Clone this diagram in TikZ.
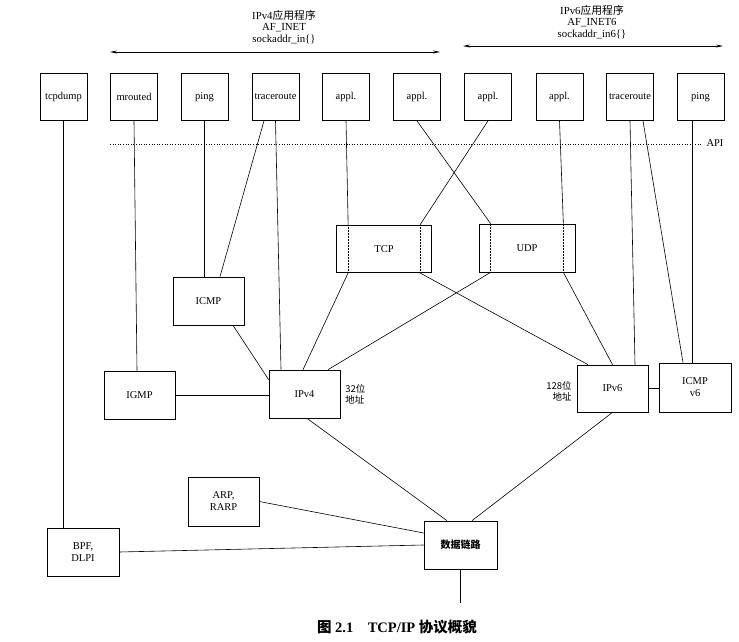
\documentclass[tikz,border=0pt]{standalone}
\usepackage{fontspec}
\setmainfont{Liberation Serif}
\newfontfamily\cjk{Noto Sans CJK SC}
\usetikzlibrary{arrows.meta}
\begin{document}
\begin{tikzpicture}[x=1pt,y=-1pt,
  line width=0.7pt,
  box/.style={draw, line width=0.7pt, minimum width=47pt, minimum height=47pt, inner sep=0pt, align=center, font=\fontsize{10.5}{12}\selectfont},
  lbox/.style={box, minimum width=71pt, minimum height=48pt},
  conn/.style={line width=0.6pt},
  innerdot/.style={densely dotted, line width=0.5pt},
  hdr/.style={align=center, font=\fontsize{10.8}{11.8}\selectfont},
  rng/.style={{Stealth[length=7pt,width=3pt]}-{Stealth[length=7pt,width=3pt]}, line width=0.8pt},
  cjkl/.style={inner sep=0pt, font=\cjk\fontsize{9.5}{11}\selectfont}
]
\useasboundingbox (0,0) rectangle (739,642);

% headers
\node[hdr] (h4) at (284,27) {IPv4{\cjk 应用程序}\\AF\_INET\\sockaddr\_in\{\}};
\node[hdr] (h6) at (592,22) {IPv6{\cjk 应用程序}\\AF\_INET6\\sockaddr\_in6\{\}};
\coordinate (r4a) at (110,52); \coordinate (r4b) at (440,52);
\coordinate (r6a) at (463,46); \coordinate (r6b) at (723,46);
\draw[rng] (r4a) -- (r4b);
\draw[rng] (r6a) -- (r6b);

% top application boxes
\node[box] (tcpdump) at (63.5,97) {tcpdump};
\node[box] (mrouted) at (134,97) {mrouted};
\node[box] (ping4) at (204.5,97) {ping};
\node[box] (tr4) at (275.5,97) {traceroute};
\node[box] (a1) at (346,97) {appl.};
\node[box] (a2) at (417,97) {appl.};
\node[box] (a3) at (488,97) {appl.};
\node[box] (a4) at (559.5,97) {appl.};
\node[box] (tr6) at (630,97) {traceroute};
\node[box] (ping6) at (700.5,97) {ping};

% API line
\node[font=\fontsize{10.5}{12}\selectfont, inner sep=4pt] (api) at (715,143) {API};
\coordinate (apistart) at (110,144);
\draw[dotted, line width=0.6pt] (apistart) -- (apistart -| api.west);

% transport
\node[box, minimum width=95pt, minimum height=47pt] (TCP) at (384,249) {TCP};
\node[box, minimum width=96pt, minimum height=48pt] (UDP) at (527,248) {UDP};

% network
\node[lbox] (ICMP) at (208.5,301) {ICMP};
\node[lbox] (IGMP) at (139.5,395) {IGMP};
\node[lbox] (IPv4) at (304.5,394) {IPv4};
\node[lbox, minimum height=47pt] (IPv6) at (612.5,388.5) {IPv6};
\node[lbox, minimum width=72pt, minimum height=49pt] (ICMPv6) at (695,387.5) {ICMP\\v6};
\node[cjkl, anchor=west, align=left] (b32) at (345,394) {32位\\地址};
\node[cjkl, anchor=east, align=right] (b128) at (572,391) {128位\\地址};

% link
\node[lbox, minimum height=49pt] (ARP) at (223.5,501.5) {ARP,\\RARP};
\node[lbox, minimum width=72pt] (BPF) at (83,552) {BPF,\\DLPI};
\node[lbox, minimum width=73pt, font=\cjk\bfseries\fontsize{10}{12}\selectfont] (DL) at (460.5,545) {数据链路};
\coordinate (dlend) at (460.5,603);

% caption
\node[font=\bfseries\fontsize{14.5}{16}\selectfont] (cap) at (397,627) {{\cjk 图} 2.1\quad TCP/IP {\cjk 协议概貌}};

% connectors
\draw[conn] (tcpdump.south) -- (tcpdump.south |- BPF.north);
\draw[conn] (mrouted.south) -- ([xshift=-2.5pt]IGMP.north);
\draw[conn] (ping4.south) -- (ping4.south |- ICMP.north);
\draw[conn] ([xshift=-11.5pt]tr4.south) -- ([xshift=11.5pt]ICMP.north);
\draw[conn] (tr4.south) -- ([xshift=-23.5pt]IPv4.north);
\draw[conn] (a1.south) -- ([xshift=12pt]TCP.north west);
\draw[innerdot] ([xshift=12pt]TCP.north west) -- ([xshift=12pt]TCP.south west);
\draw[innerdot] ([xshift=-12pt]TCP.north east) -- ([xshift=-12pt]TCP.south east);
\draw[conn] (a3.south) -- ([xshift=-12pt]TCP.north east);
\draw[conn] (a2.south) -- ([xshift=12pt]UDP.north west);
\draw[innerdot] ([xshift=12pt]UDP.north west) -- ([xshift=12pt]UDP.south west);
\draw[innerdot] ([xshift=-12pt]UDP.north east) -- ([xshift=-12pt]UDP.south east);
\draw[conn] (a4.south) -- ([xshift=-12pt]UDP.north east);
\draw[conn] ([xshift=12pt]TCP.south west) -- ([xshift=-1.5pt]IPv4.north);
\draw[conn] ([xshift=-12pt]TCP.south east) -- ([xshift=-24.5pt]IPv6.north);
\draw[conn] ([xshift=12pt]UDP.south west) -- ([xshift=23.5pt]IPv4.north);
\draw[conn] ([xshift=-12pt]UDP.south east) -- (IPv6.north);
\draw[conn] (tr6.south) -- ([xshift=22.5pt]IPv6.north);
\draw[conn] ([xshift=13pt]tr6.south) -- ([xshift=-12pt]ICMPv6.north);
\draw[conn] ([xshift=-8pt]ping6.south) -- ([xshift=-8pt]ping6.south |- ICMPv6.north);
\draw[conn] ([xshift=24.5pt]ICMP.south) -- ([yshift=-10pt]IPv4.north west);
\draw[conn] (IGMP.east) -- (IGMP.east -| IPv4.west);
\draw[conn] (IPv6.east) -- (IPv6.east -| ICMPv6.west);
\draw[conn] ([xshift=2.5pt]IPv4.south) -- ([xshift=-13.5pt]DL.north);
\draw[conn] (IPv6.south) -- ([xshift=11.5pt]DL.north);
\draw[conn] (ARP.east) -- ([yshift=12pt]DL.west);
\draw[conn] (BPF.east) -- (DL.west);
\draw[conn] (DL.south) -- (dlend);
\end{tikzpicture}
\end{document}
